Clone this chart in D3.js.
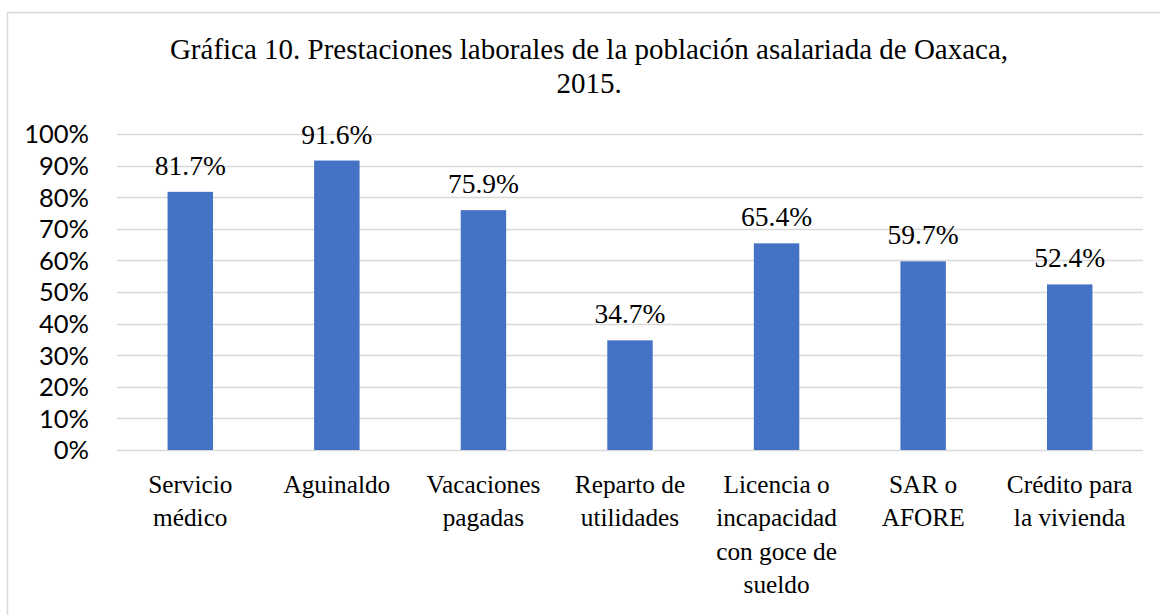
<!DOCTYPE html>
<html>
<head>
<meta charset="utf-8">
<script src="https://cdn.jsdelivr.net/npm/d3@7"></script>
<style>
  html, body { margin: 0; padding: 0; background: #fff; }
  svg { display: block; }
</style>
</head>
<body>
<div id="chart"></div>
<script>
// chart data
const categories = ['Servicio médico', 'Aguinaldo', 'Vacaciones pagadas', 'Reparto de utilidades',
    'Licencia o incapacidad con goce de sueldo', 'SAR o AFORE', 'Crédito para la vivienda'];
const categoryLines = [
    ['Servicio', 'médico'],
    ['Aguinaldo'],
    ['Vacaciones', 'pagadas'],
    ['Reparto de', 'utilidades'],
    ['Licencia o', 'incapacidad', 'con goce de', 'sueldo'],
    ['SAR o', 'AFORE'],
    ['Crédito para', 'la vivienda']
];
const values = [81.7, 91.6, 75.9, 34.7, 65.4, 59.7, 52.4];
const yTicks = [0, 10, 20, 30, 40, 50, 60, 70, 80, 90, 100];
const titleLines = ['Gráfica 10. Prestaciones laborales de la población asalariada de Oaxaca,', '2015.'];

const W = 1160, H = 615;
const margin = { top: 134, right: 17, bottom: 165, left: 117 };
const innerW = W - margin.left - margin.right;
const innerH = H - margin.top - margin.bottom;

const serif = '"Liberation Serif", "Times New Roman", serif';
const sans = 'Lato, Carlito, Calibri, sans-serif';

const svg = d3.select('#chart').append('svg')
    .attr('width', W)
    .attr('height', H);

// chart frame (runs past the picture on right and bottom)
svg.append('rect')
    .attr('x', 7.5).attr('y', 12.5)
    .attr('width', W + 20).attr('height', H + 20)
    .attr('fill', '#fff')
    .attr('stroke', '#d9d9d9')
    .attr('stroke-width', 1.5);

svg.append('text')
    .attr('text-anchor', 'middle')
    .attr('font-family', serif)
    .attr('font-size', 29)
    .attr('fill', '#000')
    .selectAll('tspan')
    .data(titleLines)
    .join('tspan')
    .attr('x', 589)
    .attr('y', (d, i) => 59 + i * 34)
    .text(d => d);

const g = svg.append('g')
    .attr('transform', `translate(${margin.left},${margin.top})`);

const x = d3.scaleBand()
    .domain(categories)
    .range([0, innerW])
    .paddingInner(0.69)
    .paddingOuter(0.345);

const y = d3.scaleLinear()
    .domain([0, 100])
    .range([innerH, 0]);

// gridlines
g.append('g')
    .selectAll('line')
    .data(yTicks)
    .join('line')
    .attr('x1', 0).attr('x2', innerW)
    .attr('y1', d => Math.round(y(d)) + 0.5)
    .attr('y2', d => Math.round(y(d)) + 0.5)
    .attr('stroke', '#d9d9d9')
    .attr('stroke-width', 1.5);

// y axis labels
const yAxis = g.append('g')
    .attr('transform', 'translate(-28,0)')
    .call(d3.axisLeft(y).tickValues(yTicks).tickFormat(d => d + '%').tickSize(0).tickPadding(0));
yAxis.select('.domain').remove();
yAxis.selectAll('text')
    .attr('font-family', sans)
    .attr('font-size', 25.5)
    .attr('fill', '#000')
    .attr('dy', '0.35em');

// bars
g.append('g')
    .selectAll('rect')
    .data(values)
    .join('rect')
    .attr('x', (d, i) => x(categories[i]))
    .attr('y', d => y(d))
    .attr('width', x.bandwidth())
    .attr('height', d => innerH - y(d))
    .attr('fill', '#4472c4');

// value labels
g.append('g')
    .selectAll('text')
    .data(values)
    .join('text')
    .attr('x', (d, i) => x(categories[i]) + x.bandwidth() / 2)
    .attr('y', d => y(d) - 17)
    .attr('text-anchor', 'middle')
    .attr('font-family', serif)
    .attr('font-size', 27.5)
    .attr('fill', '#000')
    .text(d => d.toFixed(1) + '%');

// category labels
const cat = g.append('g')
    .selectAll('text')
    .data(categoryLines)
    .join('text')
    .attr('text-anchor', 'middle')
    .attr('font-family', serif)
    .attr('font-size', 25.3)
    .attr('fill', '#000');
cat.selectAll('tspan')
    .data((d, i) => d.map(line => ({ line, i })))
    .join('tspan')
    .attr('x', d => x(categories[d.i]) + x.bandwidth() / 2)
    .attr('y', (d, j) => innerH + 43 + j * 33.3)
    .text(d => d.line);
</script>
</body>
</html>
